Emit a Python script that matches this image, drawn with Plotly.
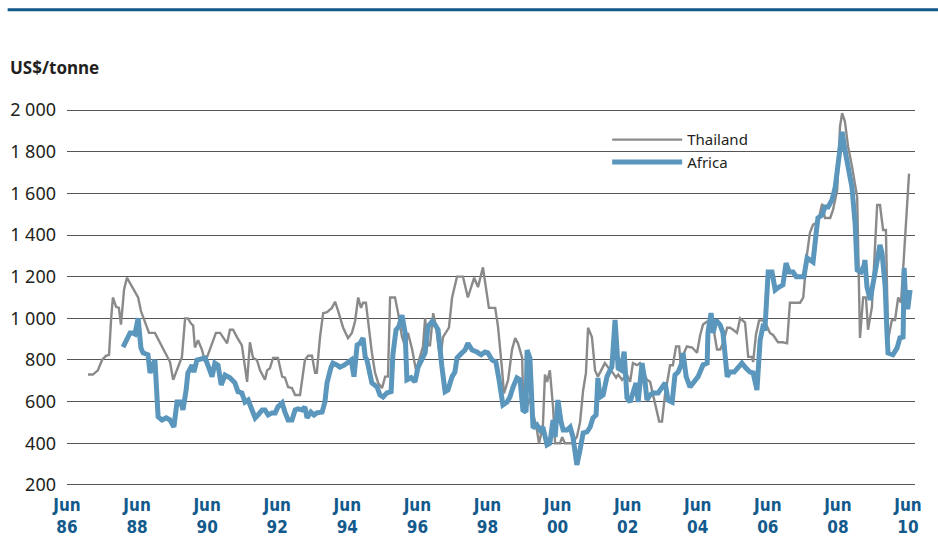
import plotly.graph_objects as go

# Rice export prices, US$/tonne, by decimal year
thailand_year = [
    1987.06, 1987.20, 1987.34, 1987.46, 1987.57, 1987.66, 1987.72, 1987.77, 1987.86, 1987.94,
    1988.00, 1988.09, 1988.17, 1988.29, 1988.40, 1988.49, 1988.57, 1988.63, 1988.71, 1988.80,
    1988.97, 1989.11, 1989.23, 1989.34, 1989.40, 1989.49, 1989.57, 1989.66, 1989.74, 1989.83,
    1989.91, 1990.00, 1990.06, 1990.11, 1990.20, 1990.31, 1990.40, 1990.46, 1990.54, 1990.63,
    1990.71, 1990.83, 1991.03, 1991.11, 1991.20, 1991.31, 1991.40, 1991.45, 1991.60, 1991.68,
    1991.77, 1991.88, 1991.97, 1992.05, 1992.11, 1992.17, 1992.25, 1992.34, 1992.48, 1992.60,
    1992.68, 1992.77, 1992.88, 1992.97, 1993.11, 1993.25, 1993.34, 1993.45, 1993.54, 1993.59,
    1993.68, 1993.77, 1993.88, 1994.02, 1994.11, 1994.19, 1994.34, 1994.48, 1994.59, 1994.68,
    1994.77, 1994.85, 1994.91, 1994.99, 1995.05, 1995.16, 1995.25, 1995.34, 1995.45, 1995.54,
    1995.62, 1995.68, 1995.82, 1995.91, 1996.02, 1996.11, 1996.19, 1996.31, 1996.42, 1996.53,
    1996.62, 1996.68, 1996.76, 1996.82, 1996.91, 1996.99, 1997.11, 1997.19, 1997.31, 1997.36,
    1997.45, 1997.59, 1997.76, 1997.90, 1998.08, 1998.19, 1998.33, 1998.45, 1998.50, 1998.68,
    1998.76, 1998.87, 1998.93, 1999.05, 1999.16, 1999.25, 1999.33, 1999.45, 1999.47, 1999.59,
    1999.67, 1999.76, 1999.87, 1999.93, 2000.04, 2000.10, 2000.16, 2000.24, 2000.33, 2000.39,
    2000.53, 2000.59, 2000.67, 2000.87, 2001.01, 2001.10, 2001.19, 2001.27, 2001.33, 2001.44,
    2001.53, 2001.61, 2001.73, 2001.81, 2001.90, 2002.04, 2002.13, 2002.19, 2002.30, 2002.44,
    2002.53, 2002.61, 2002.73, 2002.81, 2002.90, 2003.01, 2003.10, 2003.18, 2003.30, 2003.36,
    2003.44, 2003.53, 2003.61, 2003.67, 2003.75, 2003.84, 2003.93, 2003.98, 2004.07, 2004.15,
    2004.30, 2004.35, 2004.44, 2004.53, 2004.61, 2004.73, 2004.87, 2004.90, 2005.01, 2005.10,
    2005.18, 2005.30, 2005.38, 2005.47, 2005.58, 2005.67, 2005.81, 2005.90, 2006.01, 2006.04,
    2006.12, 2006.21, 2006.32, 2006.44, 2006.52, 2006.61, 2006.75, 2006.89, 2007.01, 2007.09,
    2007.38, 2007.47, 2007.58, 2007.66, 2007.75, 2007.89, 2008.01, 2008.09, 2008.24, 2008.32,
    2008.44, 2008.52, 2008.58, 2008.66, 2008.75, 2008.86, 2008.95, 2009.01, 2009.09, 2009.18,
    2009.26, 2009.32, 2009.43, 2009.58, 2009.66, 2009.75, 2009.83, 2009.89, 2010.00, 2010.09,
    2010.18, 2010.26, 2010.32, 2010.40, 2010.49,
]
thailand_price = [
    730, 730, 750, 800, 820, 825, 1000, 1100, 1055, 1050,
    970, 1140, 1195, 1160, 1130, 1100, 1035, 1010, 970, 930,
    930, 885, 845, 815, 790, 705, 740, 775, 815, 1000,
    1000, 975, 965, 860, 895, 850, 790, 815, 850, 890,
    930, 930, 880, 945, 945, 910, 880, 870, 695, 885,
    810, 800, 750, 728, 705, 750, 760, 810, 810, 720,
    715, 670, 665, 632, 632, 800, 820, 820, 738, 738,
    910, 1025, 1030, 1050, 1080, 1040, 955, 905, 930, 985,
    1100, 1050, 1075, 1075, 980, 835, 740, 690, 665, 720,
    720, 1100, 1100, 1025, 910, 865, 930, 850, 750, 815,
    865, 1000, 870, 870, 1025, 960, 800, 910, 945, 955,
    1100, 1200, 1200, 1100, 1195, 1150, 1245, 1120, 1050, 1050,
    960, 765, 640, 705, 850, 905, 880, 810, 655, 575,
    618, 545, 465, 400, 480, 730, 695, 750, 575, 400,
    400, 430, 400, 400, 430, 500, 655, 738, 955, 910,
    750, 720, 760, 785, 765, 738, 715, 730, 705, 730,
    695, 785, 775, 785, 745, 705, 695, 640, 560, 505,
    505, 640, 715, 775, 775, 865, 865, 765, 835, 865,
    860, 850, 835, 920, 970, 985, 985, 960, 850, 850,
    880, 955, 955, 945, 930, 1000, 980, 815, 815, 790,
    920, 990, 990, 960, 930, 920, 885, 885, 880, 1075,
    1075, 1100, 1310, 1410, 1450, 1462, 1550, 1482, 1482, 1520,
    1616, 1920, 1985, 1945, 1825, 1730, 1632, 1582, 906, 1100,
    1100, 945, 1054, 1544, 1544, 1424, 1424, 896, 992, 992,
    1100, 1075, 1232, 1440, 1695,
]

africa_year = [
    1988.06, 1988.17, 1988.26, 1988.34, 1988.40, 1988.49, 1988.57, 1988.63, 1988.77, 1988.83,
    1988.91, 1988.97, 1989.06, 1989.17, 1989.29, 1989.40, 1989.51, 1989.60, 1989.71, 1989.77,
    1989.86, 1989.91, 1990.03, 1990.08, 1990.17, 1990.31, 1990.40, 1990.48, 1990.60, 1990.68,
    1990.77, 1990.86, 1990.97, 1991.11, 1991.25, 1991.34, 1991.45, 1991.54, 1991.63, 1991.74,
    1991.83, 1991.91, 1992.03, 1992.11, 1992.20, 1992.31, 1992.40, 1992.48, 1992.60, 1992.68,
    1992.77, 1992.88, 1992.97, 1993.05, 1993.17, 1993.25, 1993.31, 1993.42, 1993.51, 1993.59,
    1993.74, 1993.82, 1993.88, 1993.99, 1994.05, 1994.17, 1994.25, 1994.37, 1994.48, 1994.57,
    1994.65, 1994.74, 1994.82, 1994.91, 1994.97, 1995.02, 1995.16, 1995.31, 1995.39, 1995.48,
    1995.59, 1995.71, 1995.76, 1995.85, 1995.93, 1996.02, 1996.11, 1996.16, 1996.28, 1996.39,
    1996.48, 1996.59, 1996.68, 1996.76, 1996.88, 1996.96, 1997.05, 1997.16, 1997.25, 1997.33,
    1997.45, 1997.53, 1997.59, 1997.73, 1997.82, 1997.90, 1998.02, 1998.16, 1998.28, 1998.39,
    1998.47, 1998.59, 1998.70, 1998.79, 1998.90, 1999.02, 1999.10, 1999.19, 1999.30, 1999.39,
    1999.47, 1999.56, 1999.59, 1999.67, 1999.76, 1999.87, 1999.96, 2000.04, 2000.16, 2000.24,
    2000.33, 2000.39, 2000.47, 2000.56, 2000.62, 2000.73, 2000.82, 2000.90, 2001.01, 2001.10,
    2001.19, 2001.30, 2001.39, 2001.47, 2001.56, 2001.61, 2001.67, 2001.76, 2001.87, 2001.96,
    2002.01, 2002.10, 2002.19, 2002.27, 2002.36, 2002.44, 2002.53, 2002.61, 2002.70, 2002.76,
    2002.87, 2002.96, 2003.01, 2003.10, 2003.18, 2003.33, 2003.44, 2003.53, 2003.61, 2003.73,
    2003.81, 2003.90, 2004.01, 2004.04, 2004.13, 2004.24, 2004.33, 2004.47, 2004.61, 2004.73,
    2004.75, 2004.84, 2004.90, 2004.98, 2005.10, 2005.18, 2005.30, 2005.38, 2005.50, 2005.58,
    2005.72, 2005.84, 2005.95, 2006.04, 2006.15, 2006.24, 2006.32, 2006.38, 2006.47, 2006.58,
    2006.67, 2006.78, 2006.89, 2006.98, 2007.07, 2007.18, 2007.27, 2007.38, 2007.49, 2007.58,
    2007.66, 2007.75, 2007.84, 2007.89, 2008.01, 2008.09, 2008.18, 2008.29, 2008.38, 2008.46,
    2008.58, 2008.66, 2008.75, 2008.86, 2008.95, 2009.01, 2009.12, 2009.21, 2009.23, 2009.29,
    2009.38, 2009.46, 2009.58, 2009.66, 2009.72, 2009.81, 2009.86, 2009.89, 2010.03, 2010.15,
    2010.23, 2010.32, 2010.35, 2010.40, 2010.46, 2010.52,
]
africa_price = [
    862, 896, 930, 930, 925, 1000, 858, 834, 825, 738,
    775, 800, 527, 512, 522, 512, 478, 598, 598, 560,
    656, 738, 775, 742, 800, 805, 810, 775, 720, 785,
    775, 680, 728, 715, 690, 648, 642, 598, 608, 560,
    522, 536, 560, 560, 536, 546, 546, 575, 594, 550,
    512, 512, 560, 565, 560, 575, 522, 550, 536, 546,
    550, 598, 690, 762, 785, 775, 766, 775, 785, 800,
    720, 872, 880, 905, 815, 800, 690, 670, 632, 622,
    642, 648, 825, 945, 960, 1015, 930, 705, 715, 695,
    766, 800, 834, 960, 985, 970, 945, 766, 648, 656,
    720, 742, 810, 834, 848, 880, 848, 838, 825, 838,
    834, 800, 790, 705, 584, 598, 622, 670, 714, 705,
    560, 550, 848, 810, 474, 488, 464, 478, 392, 400,
    512, 430, 608, 502, 464, 464, 478, 430, 296, 368,
    450, 455, 478, 522, 536, 714, 622, 632, 720, 752,
    766, 992, 760, 752, 840, 618, 598, 642, 690, 598,
    785, 690, 608, 632, 642, 642, 665, 690, 608, 598,
    728, 742, 785, 834, 720, 670, 690, 720, 776, 785,
    930, 1025, 930, 992, 968, 930, 720, 742, 742, 760,
    785, 760, 742, 738, 656, 896, 960, 955, 1222, 1222,
    1136, 1150, 1160, 1265, 1222, 1222, 1200, 1200, 1200, 1290,
    1280, 1270, 1410, 1482, 1496, 1534, 1534, 1568, 1626, 1750,
    1895, 1808, 1736, 1630, 1458, 1232, 1222, 1256, 1280, 1150,
    1088, 1170, 1280, 1352, 1314, 1150, 930, 834, 825, 858,
    906, 910, 1242, 1054, 1054, 1136,
]

# June of every second year, 1986-2010
tick_years = [1986, 1988, 1990, 1992, 1994, 1996, 1998, 2000, 2002, 2004, 2006, 2008, 2010]
tick_labels = ["Jun<br>%02d" % (y % 100) for y in tick_years]
tick_pos = [y + 0.46 for y in tick_years]

THAI_GREY = "#8a8a8a"
AFRICA_BLUE = "#5b96bd"
NAVY = "#135a8c"
TEXT = "#231f20"

fig = go.Figure()
fig.add_trace(go.Scatter(
    x=thailand_year, y=thailand_price, name="Thailand", mode="lines",
    line=dict(color=THAI_GREY, width=2.4),
))
fig.add_trace(go.Scatter(
    x=africa_year, y=africa_price, name="Africa", mode="lines",
    line=dict(color=AFRICA_BLUE, width=5),
))

fig.update_layout(
    width=938, height=539,
    margin=dict(l=67, r=23, t=109, b=53),
    paper_bgcolor="white", plot_bgcolor="white",
    separators=". ",
    font=dict(family="Noto Sans, Open Sans, sans-serif", size=16, color=TEXT),
    showlegend=True,
    legend=dict(
        x=0.637, y=0.962, xanchor="left", yanchor="top",
        bgcolor="rgba(0,0,0,0)", borderwidth=0,
        font=dict(size=15, color=TEXT),
        itemwidth=70, tracegroupgap=0,
    ),
    xaxis=dict(
        range=[1986.46, 2010.66],
        tickmode="array", tickvals=tick_pos, ticktext=tick_labels,
        showgrid=False, zeroline=False, showline=False, ticks="",
        ticklabelstandoff=7, automargin=False,
        tickfont=dict(family="DejaVu Sans Condensed, Liberation Sans Narrow, sans-serif",
                      size=17, color=NAVY, weight="bold"),
    ),
    yaxis=dict(
        range=[195, 2005],
        tickmode="array", tickvals=list(range(200, 2001, 200)),
        tickformat=",d",
        showgrid=True, gridcolor="#555555", gridwidth=1,
        zeroline=False, showline=False, ticks="",
        ticklabelstandoff=10, automargin=False,
        tickfont=dict(size=18, color=TEXT),
    ),
    shapes=[
        # rule under the (cropped) heading
        dict(type="line", xref="paper", yref="paper",
             x0=-0.07, x1=1.03, y0=1.263, y1=1.263,
             line=dict(color=NAVY, width=3)),
        # clear band behind the legend, above grid but below the lines
        dict(type="rect", xref="paper", yref="y", layer="between",
             x0=0.6167, x1=0.8396, y0=1700, y1=1900,
             fillcolor="white", line=dict(width=0)),
    ],
    annotations=[
        dict(text="<b>US$/tonne</b>", xref="paper", yref="paper",
             x=-0.0696, y=1.109, xanchor="left", yanchor="middle",
             showarrow=False, font=dict(size=17, color=TEXT)),
    ],
)

fig.write_html("out.html")
